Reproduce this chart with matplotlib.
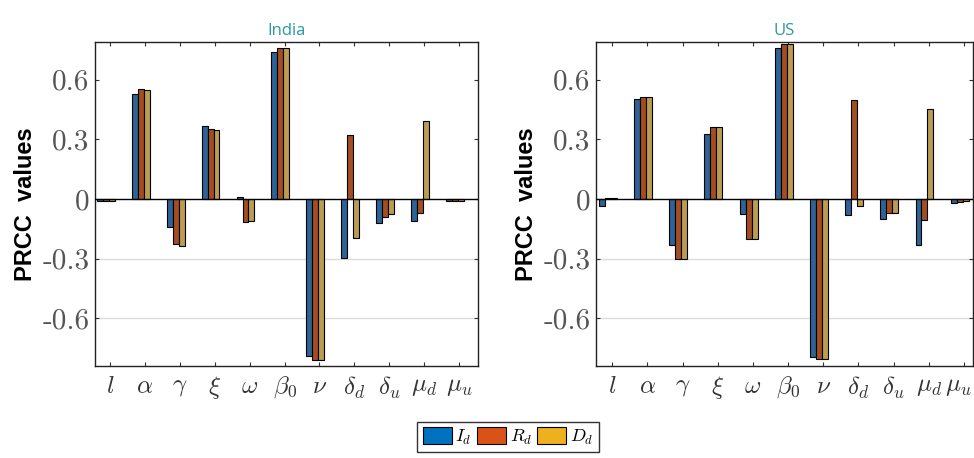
import matplotlib
matplotlib.use("Agg")
import matplotlib.pyplot as plt
import matplotlib.transforms as mtransforms
import numpy as np
from matplotlib.patches import Patch

plt.rcParams['mathtext.fontset'] = 'cm'

params = [r'$l$', r'$\alpha$', r'$\gamma$', r'$\xi$', r'$\omega$', r'$\beta_0$',
          r'$\nu$', r'$\delta_d$', r'$\delta_u$', r'$\mu_d$', r'$\mu_u$']
series_names = [r'$I_d$', r'$R_d$', r'$D_d$']

india_Id = [-0.01, 0.53, -0.14, 0.365, 0.012, 0.742, -0.79, -0.295, -0.12, -0.11, -0.01]
india_Rd = [-0.01, 0.552, -0.227, 0.352, -0.115, 0.758, -0.81, 0.32, -0.09, -0.07, -0.01]
india_Dd = [-0.01, 0.547, -0.236, 0.345, -0.11, 0.761, -0.81, -0.198, -0.077, 0.394, -0.01]

us_Id = [-0.035, 0.505, -0.232, 0.327, -0.077, 0.761, -0.796, -0.08, -0.10, -0.232, -0.02]
us_Rd = [0.005, 0.513, -0.303, 0.36, -0.20, 0.779, -0.805, 0.496, -0.07, -0.106, -0.015]
us_Dd = [0.005, 0.513, -0.303, 0.36, -0.20, 0.782, -0.807, -0.035, -0.07, 0.453, -0.01]

yticks = [-0.6, -0.3, 0, 0.3, 0.6]
ytick_labels = ['-0.6', '-0.3', '0', '0.3', '0.6']

bar_colors = ['#2d6396', '#a44d22', '#bb9c52']
legend_colors = ['#0072BD', '#D95319', '#EDB120']

fig = plt.figure(figsize=(9.74, 4.58), dpi=100)
W, H = 974, 458

def make_ax(x0, x1, y0, y1):
    return fig.add_axes([x0 / W, 1 - y1 / H, (x1 - x0) / W, (y1 - y0) / H])

axL = make_ax(95, 478, 42, 366)
axR = make_ax(596, 973, 42, 366)

panels = [
    (axL, 'India', [india_Id, india_Rd, india_Dd], (0.57, 11.54)),
    (axR, 'US', [us_Id, us_Rd, us_Dd], (0.54, 11.26)),
]

x = np.arange(1, len(params) + 1)
bw = 0.17
offsets = [-0.29, -0.12, 0.05]

for ax, title, data, xl in panels:
    for k in range(3):
        ax.bar(x + offsets[k], data[k], width=bw, color=bar_colors[k],
               edgecolor='black', linewidth=0.8, zorder=3)
    for g in [-0.3, -0.6]:
        ax.axhline(g, color='#dcdcdc', linewidth=1.0, zorder=1)
    ax.axhline(0, color='black', linewidth=1.0, zorder=4)
    ax.set_xlim(*xl)
    ax.set_ylim(-0.84, 0.79)
    ax.set_xticks(x)
    ax.set_xticklabels(params, fontsize=18, color='#333333')
    ax.set_yticks(yticks)
    ax.set_yticklabels(ytick_labels, fontsize=21, color='#555555', family='cmr10')
    ax.tick_params(axis='both', direction='in', top=True, right=True,
                   length=3, width=0.8, color='#333333')
    ax.tick_params(axis='x', pad=6)
    ax.tick_params(axis='y', pad=4)
    for s in ax.spines.values():
        s.set_linewidth(1.0)
        s.set_color('#222222')
    ax.set_title(title, fontsize=12, color='#2a9a9a', family='Open Sans', pad=5)
    ax.set_ylabel('PRCC  values', fontsize=17, fontweight='bold',
                  family='Liberation Sans', labelpad=4)

# nudge the last label of the right panel so it stays inside the canvas
last = axR.get_xticklabels()[-1]
last.set_transform(last.get_transform() +
                   mtransforms.ScaledTranslation(-6 / 100, 0, fig.dpi_scale_trans))

handles = [Patch(facecolor=c, edgecolor='black', linewidth=0.8) for c in legend_colors]
fig.legend(handles, series_names, loc='center', bbox_to_anchor=(508 / W, 1 - 437 / H),
           ncol=3, fontsize=13, frameon=True, fancybox=False, edgecolor='black',
           handlelength=1.6, handleheight=1.1, handletextpad=0.2, columnspacing=0.3,
           borderpad=0.3, borderaxespad=0.2)

fig.savefig('out.png', dpi=100)
